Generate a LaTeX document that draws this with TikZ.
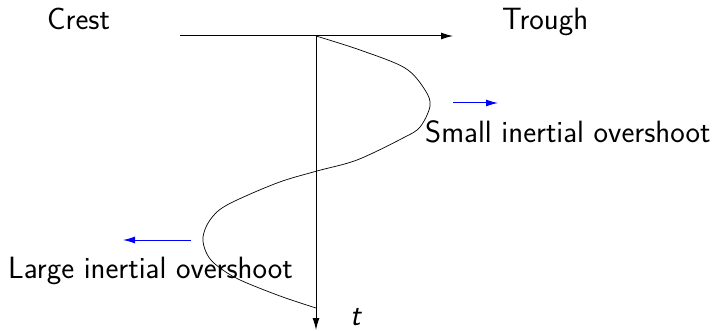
\documentclass[tikz,border=0pt]{standalone}
\usepackage{fontspec}
\usetikzlibrary{arrows.meta}
\tikzset{
  lbl/.style={inner sep=0pt, anchor=base west, font=\fontsize{30.8}{36}\selectfont\sffamily},
  axis/.style={line width=1pt, -{Latex[length=12pt,width=7pt]}},
  motion/.style={blue, line width=1pt, -{Latex[length=12pt,width=7pt]}},
}
\begin{document}
\begin{tikzpicture}[x=1pt,y=-1pt]
\useasboundingbox (0,0) rectangle (714,331);
\coordinate (hs) at (180,36);
\coordinate (he) at (453,36);
\coordinate (vs) at (316,36);
\coordinate (ve) at (316,330);
\draw[axis] (hs) -- (he);
\draw[axis] (vs) -- (ve);
\draw[line width=0.7pt] plot[smooth, tension=0.55] coordinates {
 (316,36) (360,50) (405,68) (425,90) (430,106) (420,127) (403,138) (357,160)
 (317,171) (277,183) (227,205) (210,220) (203,237) (206,252) (215,264) (238,279) (280,296) (316,308)};
\node[lbl] (crest) at (47,30) {Crest};
\node[lbl] (trough) at (502,30) {Trough};
\node[lbl] (small) at (425,143) {Small inertial overshoot};
\node[lbl] (large) at (8,278) {Large inertial overshoot};
\node[lbl] (t) at (350,325) {\itshape t};
\coordinate (sa) at (453,103);
\coordinate (sb) at (498,103);
\coordinate (la) at (191,240);
\coordinate (lb) at (123,240);
\draw[motion] (sa) -- (sb);
\draw[motion] (la) -- (lb);
\end{tikzpicture}
\end{document}
